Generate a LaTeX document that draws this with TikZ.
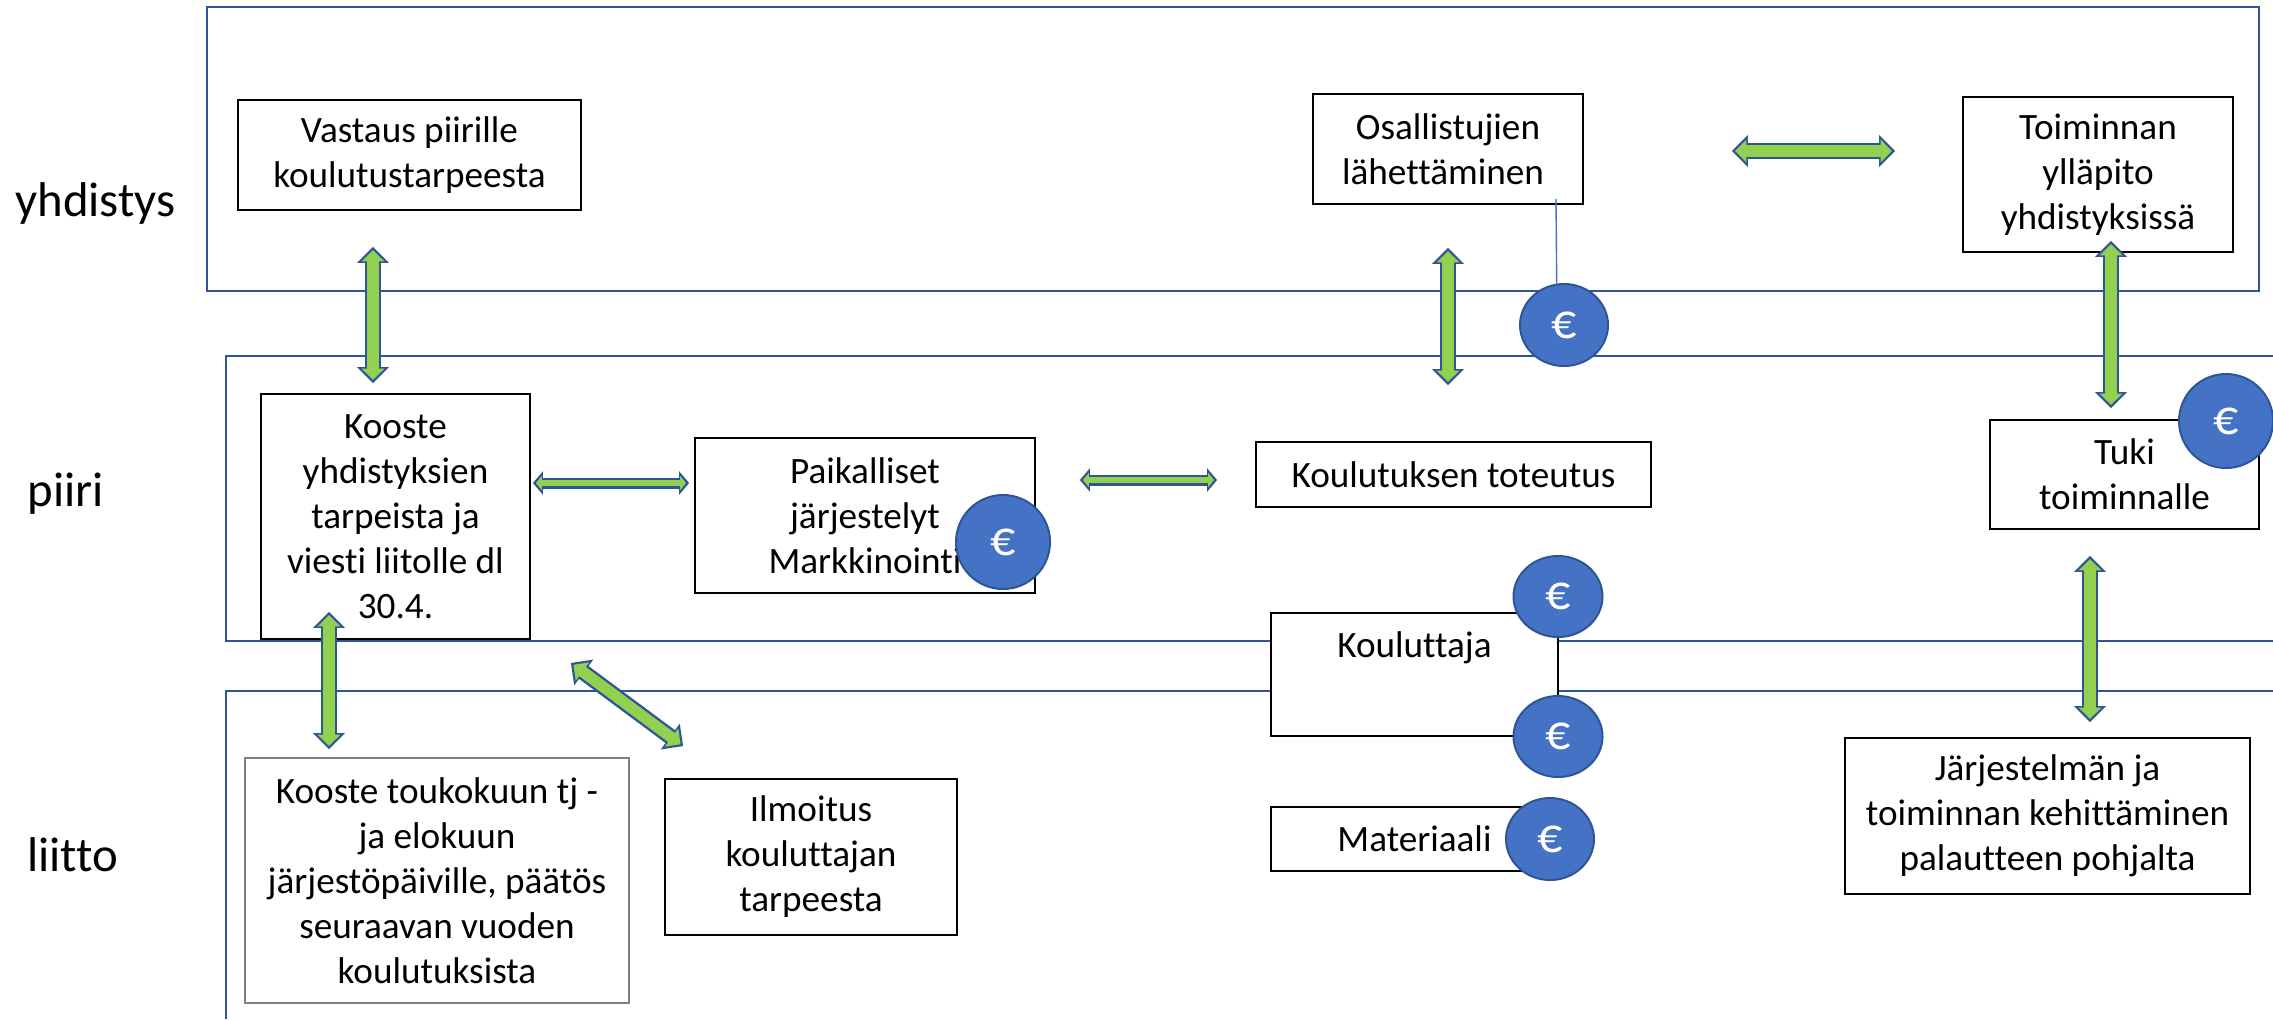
\documentclass[tikz,border=0pt]{standalone}
\usepackage{fontspec}
\setmainfont[Ligatures=NoCommon]{Carlito}
\usetikzlibrary{arrows.meta,shapes.geometric}

\definecolor{frameblue}{HTML}{2F5597}
\definecolor{coinblue}{HTML}{4472C4}
\definecolor{arrowgreen}{HTML}{92D050}

\tikzset{
    frame/.style={draw=frameblue, line width=1.45pt},
    box/.style={draw=black, fill=white, line width=0.9pt, align=center, inner sep=0pt,
        font=\fontsize{18.6}{22.5}\selectfont},
    coin/.style={ellipse, draw=frameblue, fill=coinblue, line width=1pt, inner sep=0pt,
        text=white, font=\fontsize{25}{25}\selectfont},
    level/.style={anchor=west, inner sep=0pt, font=\fontsize{24.4}{28}\selectfont},
    blockarrow/.style={line width=8pt, draw=frameblue,
        {Triangle[length=8pt,width=15.5pt]}-{Triangle[length=8pt,width=15.5pt]},
        postaction={draw=arrowgreen, line width=5.6pt, shorten <=1.6pt, shorten >=1.6pt,
            {Triangle[length=5.6pt,width=11pt]}-{Triangle[length=5.6pt,width=11pt]}}},
    flatarrow/.style={line width=5.5pt, draw=frameblue,
        {Triangle[length=5pt,width=11.5pt]}-{Triangle[length=5pt,width=11.5pt]},
        postaction={draw=arrowgreen, line width=3pt, shorten <=1.5pt, shorten >=1.5pt,
            {Triangle[length=3pt,width=7pt]}-{Triangle[length=3pt,width=7pt]}}}
}

\begin{document}
\begin{tikzpicture}[x=0.5pt, y=-0.5pt]
    \useasboundingbox (0,0) rectangle (2273,1019);

    \draw[frame] (207,7) rectangle (2259,291);
    \draw[frame] (2273,356) -- (226,356) -- (226,641) -- (2273,641);
    \draw[frame] (2273,691) -- (226,691) -- (226,1019);

    \node[level](l_yhdistys) at (15, 203) {yhdistys};
    \node[level](l_piiri) at (27, 494) {piiri};
    \node[level](l_liitto) at (27, 855) {liitto};

    \node[box, minimum width=171.5pt, minimum height=55pt](b_vastaus) at (409.5, 155) {Vastaus piirille\\koulutustarpeesta};
    \node[box, minimum width=135pt, minimum height=55pt](b_osall) at (1448, 149) {Osallistujien\\lähettäminen\hspace*{5pt}};
    \node[box, minimum width=135pt, minimum height=77.5pt](b_toiminta) at (2098, 174.5) {Toiminnan\\ylläpito\\yhdistyksissä};

    \node[box, minimum width=134.5pt, minimum height=122.5pt](b_kooste_y) at (395.5, 516.5) {Kooste\\yhdistyksien\\tarpeista ja\\viesti liitolle dl\\30.4.};
    \node[box, minimum width=170pt, minimum height=77.5pt](b_paikall) at (865, 515.5) {Paikalliset\\järjestelyt\\Markkinointi};
    \node[box, minimum width=197.5pt, minimum height=32.5pt](b_toteutus) at (1453.5, 474.5) {Koulutuksen toteutus};
    \node[box, minimum width=134.5pt, minimum height=54.5pt](b_tuki) at (2124.5, 474.5) {Tuki\\toiminnalle};

    \node[box, minimum width=143.5pt, minimum height=61.5pt](b_kouluttaja) at (1414.5, 674.5) {Kouluttaja\\[7pt]~};
    \node[box, minimum width=143.5pt, minimum height=32pt](b_materiaali) at (1414.5, 839) {Materiaali};

    \node[box, draw=gray, minimum width=192pt, minimum height=122.5pt](b_kooste_t) at (437, 880.5) {Kooste toukokuun tj -\\ja elokuun\\järjestöpäiville, päätös\\seuraavan vuoden\\koulutuksista};
    \node[box, minimum width=146pt, minimum height=78pt](b_ilmoitus) at (811, 857) {Ilmoitus\\kouluttajan\\tarpeesta};
    \node[box, minimum width=202.5pt, minimum height=78pt](b_kehitys) at (2047.5, 816) {Järjestelmän ja\\toiminnan kehittäminen\\palautteen pohjalta};

    \node[coin, minimum width=44pt, minimum height=41pt](c_0) at (1564, 325) {€};
    \node[coin, minimum width=47pt, minimum height=47pt](c_1) at (2226, 421) {€};
    \node[coin, minimum width=47pt, minimum height=47pt](c_2) at (1003, 542) {€};
    \node[coin, minimum width=44.5pt, minimum height=40.5pt](c_3) at (1558, 596.5) {€};
    \node[coin, minimum width=44.5pt, minimum height=40.5pt](c_4) at (1558, 736.5) {€};
    \node[coin, minimum width=44pt, minimum height=41pt](c_5) at (1550, 839) {€};

    \draw[coinblue, line width=0.7pt] ([shift={(108,-6)}]b_osall.south) -- (c_0.100);

    \draw[blockarrow] ([shift={(-36.5,36)}]b_vastaus.south) -- ([shift={(-22.5,-10)}]b_kooste_y.north);
    \draw[blockarrow] ([shift={(0,43)}]b_osall.south) -- ([shift={(-5.5,-56)}]b_toteutus.north);
    \draw[blockarrow] ([shift={(148,2)}]b_osall.east) -- ([shift={(-67,-23.5)}]b_toiminta.west);
    \draw[blockarrow] ([shift={(13,-12)}]b_toiminta.south) -- ([shift={(-13.5,-11)}]b_tuki.north);
    \draw[blockarrow] ([shift={(-34.5,26)}]b_tuki.south) -- ([shift={(42.5,-15)}]b_kehitys.north);
    \draw[blockarrow] ([shift={(-66.5,-28)}]b_kooste_y.south) -- ([shift={(-108,-8)}]b_kooste_t.north);
    \draw[blockarrow] ([shift={(40,23)}]b_kooste_y.south east) -- ([shift={(19,-32)}]b_ilmoitus.north west);
    \draw[flatarrow] ([shift={(2,-33.5)}]b_kooste_y.east) -- ([shift={(-5,-32.5)}]b_paikall.west);
    \draw[flatarrow] ([shift={(44,-35.5)}]b_paikall.east) -- ([shift={(-38,5.5)}]b_toteutus.west);
\end{tikzpicture}
\end{document}
